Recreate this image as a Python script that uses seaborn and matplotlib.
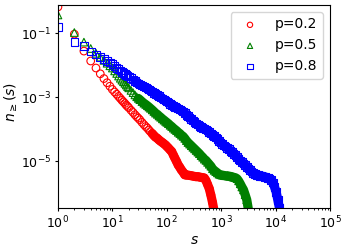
import matplotlib
matplotlib.use("Agg")
import matplotlib.pyplot as plt
from matplotlib.ticker import NullLocator
import numpy as np
import pandas as pd
import seaborn as sns

# cluster sizes s (shared grid, each series uses a prefix of it)
s_values = [1, 2, 3, 4, 5, 6, 7, 8, 9, 10,
            11, 12, 13, 14, 15, 16, 17, 18, 19, 20,
            22, 24, 26, 28, 30, 32, 35, 38, 41, 44, 47, 50,
            54, 58, 62, 67, 72, 77, 83, 89, 95, 100,
            107, 115, 123, 132, 141, 151, 162, 174, 186, 200,
            214, 229, 245, 263, 282, 302, 324, 347, 372, 398,
            427, 457, 490, 525, 562, 603, 646, 692, 741, 794,
            851, 912, 977, 1047, 1122, 1202, 1288, 1380, 1479, 1585,
            1698, 1820, 1950, 2089, 2239, 2399, 2570, 2754, 2951, 3162,
            3388, 3631, 3890, 4169, 4467, 4786, 5129, 5495, 5888, 6310,
            6761, 7244, 7762, 8318, 8913, 9550, 10233, 10965, 11749, 12589]

# log10 of n_>=(s)
log_n_p02 = [-0.17, -1.02, -1.55, -1.86, -2.08, -2.26, -2.41, -2.54, -2.65, -2.75,
             -2.83, -2.90, -2.97, -3.03, -3.09, -3.14, -3.19, -3.24, -3.28, -3.32,
             -3.40, -3.47, -3.54, -3.60, -3.65, -3.70, -3.78, -3.85, -3.91, -3.96, -4.02, -4.07,
             -4.13, -4.19, -4.24, -4.28, -4.33, -4.37, -4.41, -4.45, -4.49, -4.53,
             -4.58, -4.64, -4.69, -4.80, -4.90, -5.00, -5.11, -5.19, -5.27, -5.34,
             -5.42, -5.43, -5.43, -5.44, -5.45, -5.46, -5.47, -5.48, -5.48, -5.49,
             -5.50, -5.51, -5.52, -5.60, -5.72, -5.85, -6.05, -6.28, -6.55, -6.90]

log_n_p05 = [-0.42, -0.97, -1.27, -1.47, -1.62, -1.74, -1.84, -1.93, -2.01, -2.08,
             -2.17, -2.25, -2.33, -2.40, -2.46, -2.51, -2.56, -2.61, -2.66, -2.70,
             -2.78, -2.85, -2.92, -2.98, -3.03, -3.07, -3.13, -3.18, -3.22, -3.26, -3.30, -3.34,
             -3.39, -3.44, -3.49, -3.53, -3.58, -3.62, -3.67, -3.71, -3.75, -3.78,
             -3.82, -3.87, -3.91, -3.96, -4.00, -4.04, -4.09, -4.13, -4.18, -4.22,
             -4.28, -4.35, -4.41, -4.46, -4.51, -4.56, -4.61, -4.66, -4.71, -4.76,
             -4.82, -4.87, -4.93, -4.97, -5.03, -5.09, -5.15, -5.23, -5.28, -5.32,
             -5.36, -5.40, -5.42, -5.43, -5.44, -5.45, -5.45, -5.46, -5.47, -5.48,
             -5.50, -5.51, -5.54, -5.61, -5.70, -5.80, -5.89, -6.04, -6.20, -6.50,
             -7.00]

log_n_p08 = [-0.80, -1.26, -1.39, -1.56, -1.66, -1.73, -1.80, -1.86, -1.91, -1.96,
             -2.02, -2.07, -2.12, -2.16, -2.20, -2.23, -2.26, -2.29, -2.32, -2.35,
             -2.40, -2.44, -2.49, -2.53, -2.56, -2.59, -2.63, -2.66, -2.69, -2.72, -2.75, -2.78,
             -2.82, -2.86, -2.89, -2.93, -2.96, -3.00, -3.03, -3.07, -3.10, -3.13,
             -3.16, -3.20, -3.23, -3.26, -3.29, -3.32, -3.35, -3.38, -3.41, -3.44,
             -3.49, -3.54, -3.58, -3.63, -3.67, -3.72, -3.76, -3.81, -3.85, -3.89,
             -3.92, -3.95, -3.97, -4.00, -4.04, -4.09, -4.13, -4.17, -4.21, -4.25,
             -4.30, -4.36, -4.41, -4.45, -4.50, -4.54, -4.58, -4.62, -4.67, -4.71,
             -4.76, -4.81, -4.87, -4.92, -4.97, -5.02, -5.07, -5.12, -5.17, -5.22,
             -5.27, -5.32, -5.37, -5.40, -5.42, -5.43, -5.45, -5.46, -5.47, -5.48,
             -5.50, -5.52, -5.54, -5.58, -5.66, -5.80, -5.95, -6.20, -6.45, -7.00]

labels = ["p=0.2", "p=0.5", "p=0.8"]
colors = ["red", "green", "blue"]
markers = ["o", "^", "s"]
series = [log_n_p02, log_n_p05, log_n_p08]
dense_from = [54, 30, 26]   # s beyond which the markers merge into a solid band

fig = plt.figure(figsize=(3.47, 2.49), dpi=100)
ax = fig.add_axes([0.167, 0.165, 0.784, 0.815])

for lab, col, mk, logn, s0 in zip(labels, colors, markers, series, dense_from):
    df = pd.DataFrame({"s": s_values[:len(logn)], "n": np.power(10.0, logn)})
    dense = df[df["s"] >= s0]
    sns.scatterplot(data=df, x="s", y="n", ax=ax, marker=mk, s=30,
                    color=col, facecolor="none", edgecolor=col,
                    linewidth=0.8, label=lab, zorder=2)
    sns.lineplot(data=dense, x="s", y="n", ax=ax, color=col, linewidth=6.6,
                 estimator=None, sort=False, solid_capstyle="round",
                 solid_joinstyle="round", legend=False, zorder=2.5)

ax.set_xscale("log")
ax.set_yscale("log")
ax.set_xlim(1, 1e5)
ax.set_ylim(3.5e-7, 0.78)
ax.set_yticks([1e-1, 1e-3, 1e-5])
ax.yaxis.set_minor_locator(NullLocator())
ax.tick_params(which="major", labelsize=9, length=2.5, pad=2.5)
ax.tick_params(which="minor", length=1.5)
ax.set_xlabel("$s$", fontsize=10)
ax.set_ylabel(r"$n_{\geq}(s)$", fontsize=10)
ax.xaxis.set_label_coords(0.5, -0.125)
ax.yaxis.set_label_coords(-0.14, 0.52)
ax.legend(loc="upper right", markerscale=0.7, fontsize=10)

fig.savefig("out.png", dpi=100)
